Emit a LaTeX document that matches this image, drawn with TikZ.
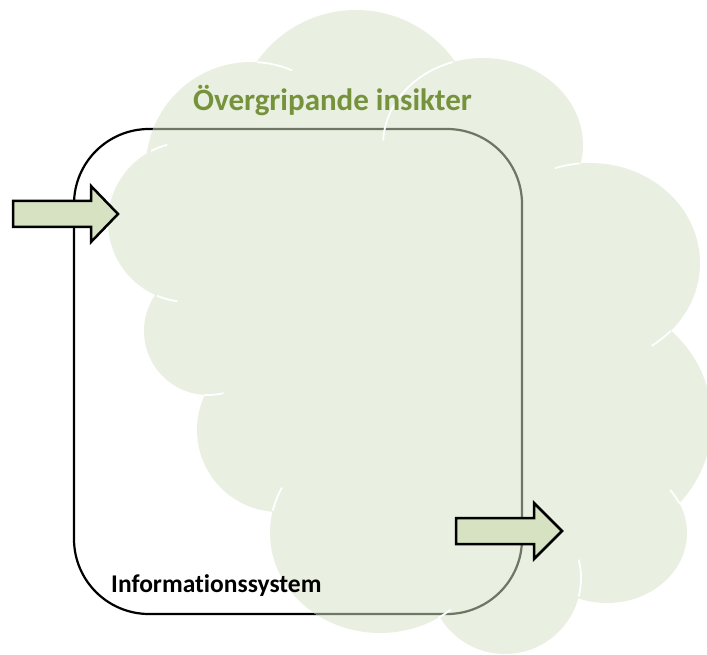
\documentclass[tikz,border=0pt]{standalone}
\usepackage{fontspec}
\setmainfont{Carlito}[RawFeature={-liga,-dlig}]
\definecolor{cloudfill}{RGB}{233,239,225}
\definecolor{framegray}{RGB}{110,118,100}
\definecolor{arrowfill}{RGB}{214,226,194}
\definecolor{titlegreen}{RGB}{118,146,60}
% outline of the cloud: inner polygon through the lobe junctions plus the lobes
\newcommand\cloudoutline{%
  (150,149) -- (257,62) -- (455,63) -- (580,165) -- (672,332) -- (680,503)
  -- (580,598) -- (437,617) -- (272,510) -- (204,396) -- (157,293) -- cycle
  (lA) circle[radius=80]
  (lJ) circle[radius=105]
  (lI) circle[radius=121]
  (lH) ellipse[x radius=100, y radius=87]
  (lG) ellipse[x radius=110, y radius=100]
  (lF) circle[radius=120]
  (lE) ellipse[x radius=80, y radius=70]
  (lK) circle[radius=76]
  (lD) ellipse[x radius=110, y radius=100]
  (lC) circle[radius=82]
  (lB) circle[radius=64]}
\begin{document}
\begin{tikzpicture}[x=1pt, y={(0pt,-1pt)},
  frame/.style={line width=2.2pt, rounded corners=75pt},
  hilite/.style={draw=white, line width=1.8pt},
  blockarrow/.style={draw=black, fill=arrowfill, line width=2.5pt, miter limit=10},
  title/.style={font=\fontsize{31}{31}\selectfont\bfseries, text=titlegreen, inner sep=0pt, anchor=base west},
  caption/.style={font=\fontsize{25.5}{25.5}\selectfont\bfseries, text=black, inner sep=0pt, anchor=base west}]
\useasboundingbox (0,0) rectangle (707,655);
% lobe centres
\coordinate (lA) at (188,222);
\coordinate (lJ) at (251,167);
\coordinate (lI) at (356,131);
\coordinate (lH) at (483,145);
\coordinate (lG) at (590,263);
\coordinate (lF) at (592,421);
\coordinate (lE) at (607,533);
\coordinate (lK) at (505,578);
\coordinate (lD) at (380,533);
\coordinate (lC) at (279,430);
\coordinate (lB) at (208,331);
% system frame
\draw[frame] (74,129) rectangle (522,614);
% cloud
\fill[cloudfill] \cloudoutline;
\begin{scope}
  \clip \cloudoutline;
  \draw[frame, framegray] (74,129) rectangle (522,614);
\end{scope}
% light seams where the lobes meet
\draw[hilite] (lA) ++(-117.5:80) arc[start angle=-117.5, end angle=-105, radius=80];
\draw[hilite] (lJ) ++(-86.7:105) arc[start angle=-86.7, end angle=-67, radius=105];
\draw[hilite] (lH) ++(-107.6:100 and 87) arc[start angle=-107.6, end angle=-177, x radius=100, y radius=87];
\draw[hilite] (lG) ++(-95.2:110 and 100) arc[start angle=-95.2, end angle=-108.5, x radius=110, y radius=100];
\draw[hilite] (lG) ++(42.8:110 and 100) arc[start angle=42.8, end angle=56, x radius=110, y radius=100];
\draw[hilite] (lE) ++(-25:80 and 70) arc[start angle=-25, end angle=-38, x radius=80, y radius=70];
\draw[hilite] (lK) ++(14:76) arc[start angle=14, end angle=-14, radius=76];
\draw[hilite] (lD) ++(58:110 and 100) arc[start angle=58, end angle=50, x radius=110, y radius=100];
\draw[hilite] (lD) ++(-167:110 and 100) arc[start angle=-167, end angle=-153, x radius=110, y radius=100];
\draw[hilite] (lB) ++(93.6:64) arc[start angle=93.6, end angle=76, radius=64];
\draw[hilite] (lA) ++(112.9:80) arc[start angle=112.9, end angle=97.6, radius=80];
% block arrows
\draw[blockarrow] (13,201) -- (91,201) -- (91,186) -- (118,214) -- (91,242) -- (91,227) -- (13,227) -- cycle;
\draw[blockarrow] (456,518) -- (534,518) -- (534,503) -- (562,531) -- (534,559) -- (534,544) -- (456,544) -- cycle;
% labels
\node[title] (insight) at (193,111) {Övergripande insikter};
\node[caption] (infosys) at (111,592) {Informationssystem};
\end{tikzpicture}
\end{document}
